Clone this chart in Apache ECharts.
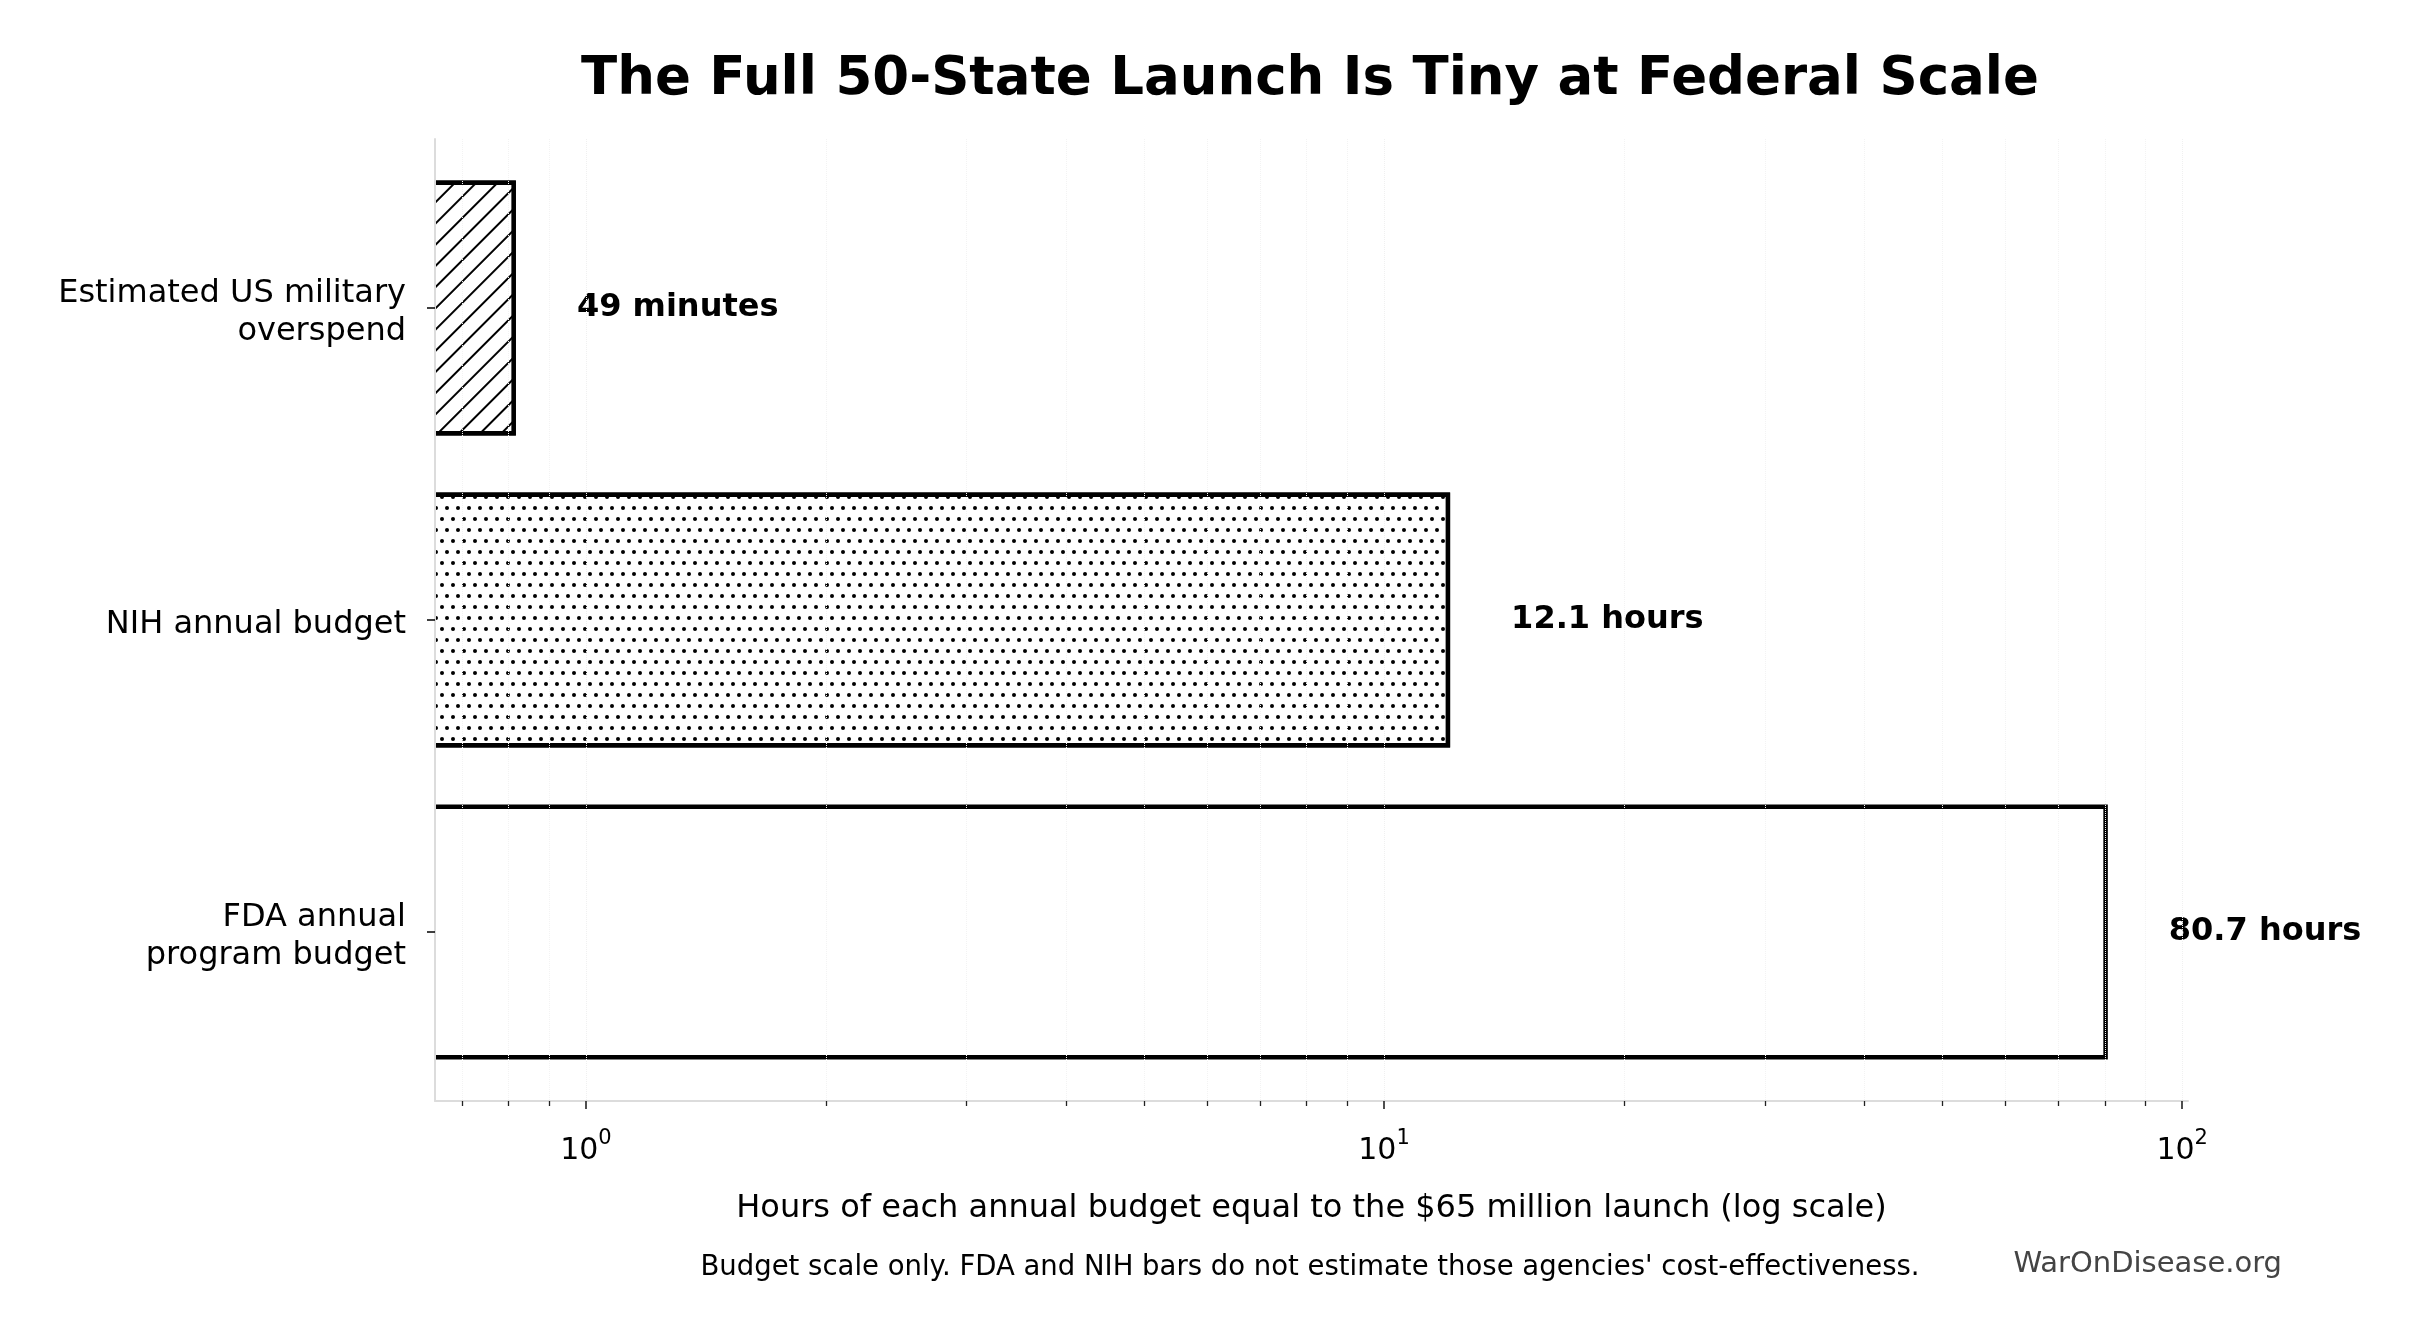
<!DOCTYPE html>
<html>
<head>
<meta charset="utf-8">
<script src="https://cdn.jsdelivr.net/npm/echarts@6/dist/echarts.min.js"></script>
<style>
  html, body { margin: 0; padding: 0; background: #fff; }
  #chart { width: 2420px; height: 1340px; }
</style>
</head>
<body>
<div id="chart"></div>
<script>
// Budget comparison data (hours of each budget equal to the $65M launch)
const categories = ['Estimated US military\noverspend', 'NIH annual budget', 'FDA annual\nprogram budget'];
const hoursValues = [0.817, 12.1, 80.7];
const valueLabels = ['49 minutes', '12.1 hours', '80.7 hours'];

// log axis range and tick positions
const axisMin = 0.647;
const axisMax = 101.7;
const majorTicks = [1, 10, 100];
const minorTicks = [0.7, 0.8, 0.9, 2, 3, 4, 5, 6, 7, 8, 9, 20, 30, 40, 50, 60, 70, 80, 90];

const FONT = '"DejaVu Sans", Verdana, sans-serif';

// bars live in a grid that reaches 100px further left (same px per decade),
// so their left edge can be hidden under a mask like matplotlib's clipped bars
const extraLeft = 100;
const pxPerDecade = 798;
const barAxisMin = axisMin / Math.pow(10, extraLeft / pxPerDecade);

// bar fill patterns: diagonal hatch, dots, plain
const hatchDecal = {
    symbol: 'rect', color: '#000', backgroundColor: '#fff',
    dashArrayX: [1, 0], dashArrayY: [2, 13], rotation: -Math.PI / 4
};
const dotDecal = {
    symbol: 'circle', symbolSize: 1, color: '#000', backgroundColor: '#fff',
    dashArrayX: [[4, 7], [0, 5, 4, 2]], dashArrayY: [4, 7], rotation: 0
};
const decals = [hatchDecal, dotDecal, null];

const chart = echarts.init(document.getElementById('chart'), null, { renderer: 'canvas' });

const barData = hoursValues.map((v, i) => ({
    value: v,
    itemStyle: decals[i] ? { decal: decals[i] } : {}
}));

chart.setOption({
    animation: false,
    backgroundColor: '#fff',
    textStyle: { fontFamily: FONT },
    grid: [
        // frame grid: spines, x ticks, gridlines
        { left: 435, right: 232, top: 139, bottom: 239, outerBoundsMode: 'none' },
        // bar grid, slightly inset vertically like matplotlib margins
        { left: 435 - extraLeft, right: 232, top: 152, bottom: 252, outerBoundsMode: 'none' }
    ],
    xAxis: [
        {
            type: 'log', gridIndex: 0, position: 'bottom', min: axisMin, max: axisMax, logBase: 10, z: 10,
            name: 'Hours of each annual budget equal to the $65 million launch (log scale)',
            nameLocation: 'middle', nameGap: 92,
            nameTextStyle: { fontSize: 32, color: '#000', fontFamily: FONT },
            axisLine: { show: true, lineStyle: { color: '#dcdcdc', width: 2 } },
            axisTick: { show: true, length: 8, customValues: majorTicks, lineStyle: { color: '#222', width: 1.6 } },
            axisLabel: {
                show: true, margin: 27, customValues: majorTicks, color: '#000',
                formatter: function (v) { return '{b|10}{s|' + Math.round(Math.log10(v)) + '}'; },
                rich: {
                    b: { fontSize: 30, lineHeight: 38, verticalAlign: 'bottom', color: '#000', fontFamily: FONT },
                    s: { fontSize: 21, lineHeight: 38, verticalAlign: 'top', color: '#000', fontFamily: FONT }
                }
            },
            splitLine: { show: true, lineStyle: { color: '#f0f0f0', width: 1, type: 'dotted' } }
        },
        {
            type: 'log', gridIndex: 0, position: 'bottom', min: axisMin, max: axisMax, logBase: 10, z: 10,
            axisLine: { show: false },
            axisTick: { show: true, length: 5, customValues: minorTicks, lineStyle: { color: '#222', width: 1.3 } },
            axisLabel: { show: false },
            splitLine: { show: true, lineStyle: { color: '#f3f3f3', width: 1, type: 'dotted' } }
        },
        {
            type: 'log', gridIndex: 1, position: 'bottom', min: barAxisMin, max: axisMax, logBase: 10,
            startValue: 0.3,
            show: false
        }
    ],
    yAxis: [
        {
            type: 'value', gridIndex: 0, min: 0, max: 1, z: 10,
            axisLine: { show: true, lineStyle: { color: '#dcdcdc', width: 2 } },
            axisTick: { show: false }, axisLabel: { show: false }, splitLine: { show: false }
        },
        {
            type: 'category', gridIndex: 1, data: categories, inverse: true,
            offset: -extraLeft, z: 10,
            axisLine: { show: false },
            axisTick: { show: true, alignWithLabel: true, length: 8, lineStyle: { color: '#000', width: 1.5 } },
            axisLabel: {
                margin: 29, color: '#000', align: 'right',
                formatter: function (v) {
                    // each line carries a small top pad so the block sits a little lower
                    return v.split('\n').map(line => '{r|' + line + '}').join('\n');
                },
                rich: {
                    r: { fontSize: 32, lineHeight: 38, padding: [10, 0, 0, 0], color: '#000', fontFamily: FONT, align: 'right' }
                }
            },
            splitLine: { show: false }
        }
    ],
    series: [{
        type: 'bar',
        xAxisIndex: 2, yAxisIndex: 1,
        data: barData,
        barWidth: 255,
        clip: true,
        itemStyle: { color: '#fff', borderColor: '#000', borderWidth: 4.5 },
        label: {
            show: true, position: 'right', distance: 61,
            formatter: function (p) { return valueLabels[p.dataIndex]; },
            fontSize: 32, fontWeight: 'bold', color: '#000', fontFamily: FONT
        },
        emphasis: { disabled: true }
    }],
    graphic: [
        {
            // white mask hiding the part of the bars left of the frame
            type: 'rect', z: 5, silent: true,
            shape: { x: 300, y: 140, width: 134, height: 960 },
            style: { fill: '#fff' }
        },
        {
            type: 'text', x: 1310, y: 80, z: 10,
            style: {
                text: 'The Full 50-State Launch Is Tiny at Federal Scale',
                fontSize: 53, fontWeight: 'bold', fontFamily: FONT, fill: '#000',
                align: 'center', verticalAlign: 'middle'
            }
        },
        {
            type: 'text', x: 1310, y: 1268, z: 10,
            style: {
                text: "Budget scale only. FDA and NIH bars do not estimate those agencies' cost-effectiveness.",
                fontSize: 27.5, fontFamily: FONT, fill: '#000',
                align: 'center', verticalAlign: 'middle'
            }
        },
        {
            type: 'text', x: 2282, y: 1264, z: 10,
            style: {
                text: 'WarOnDisease.org',
                fontSize: 29, fontFamily: FONT, fill: '#444',
                align: 'right', verticalAlign: 'middle'
            }
        }
    ]
});
</script>
</body>
</html>
